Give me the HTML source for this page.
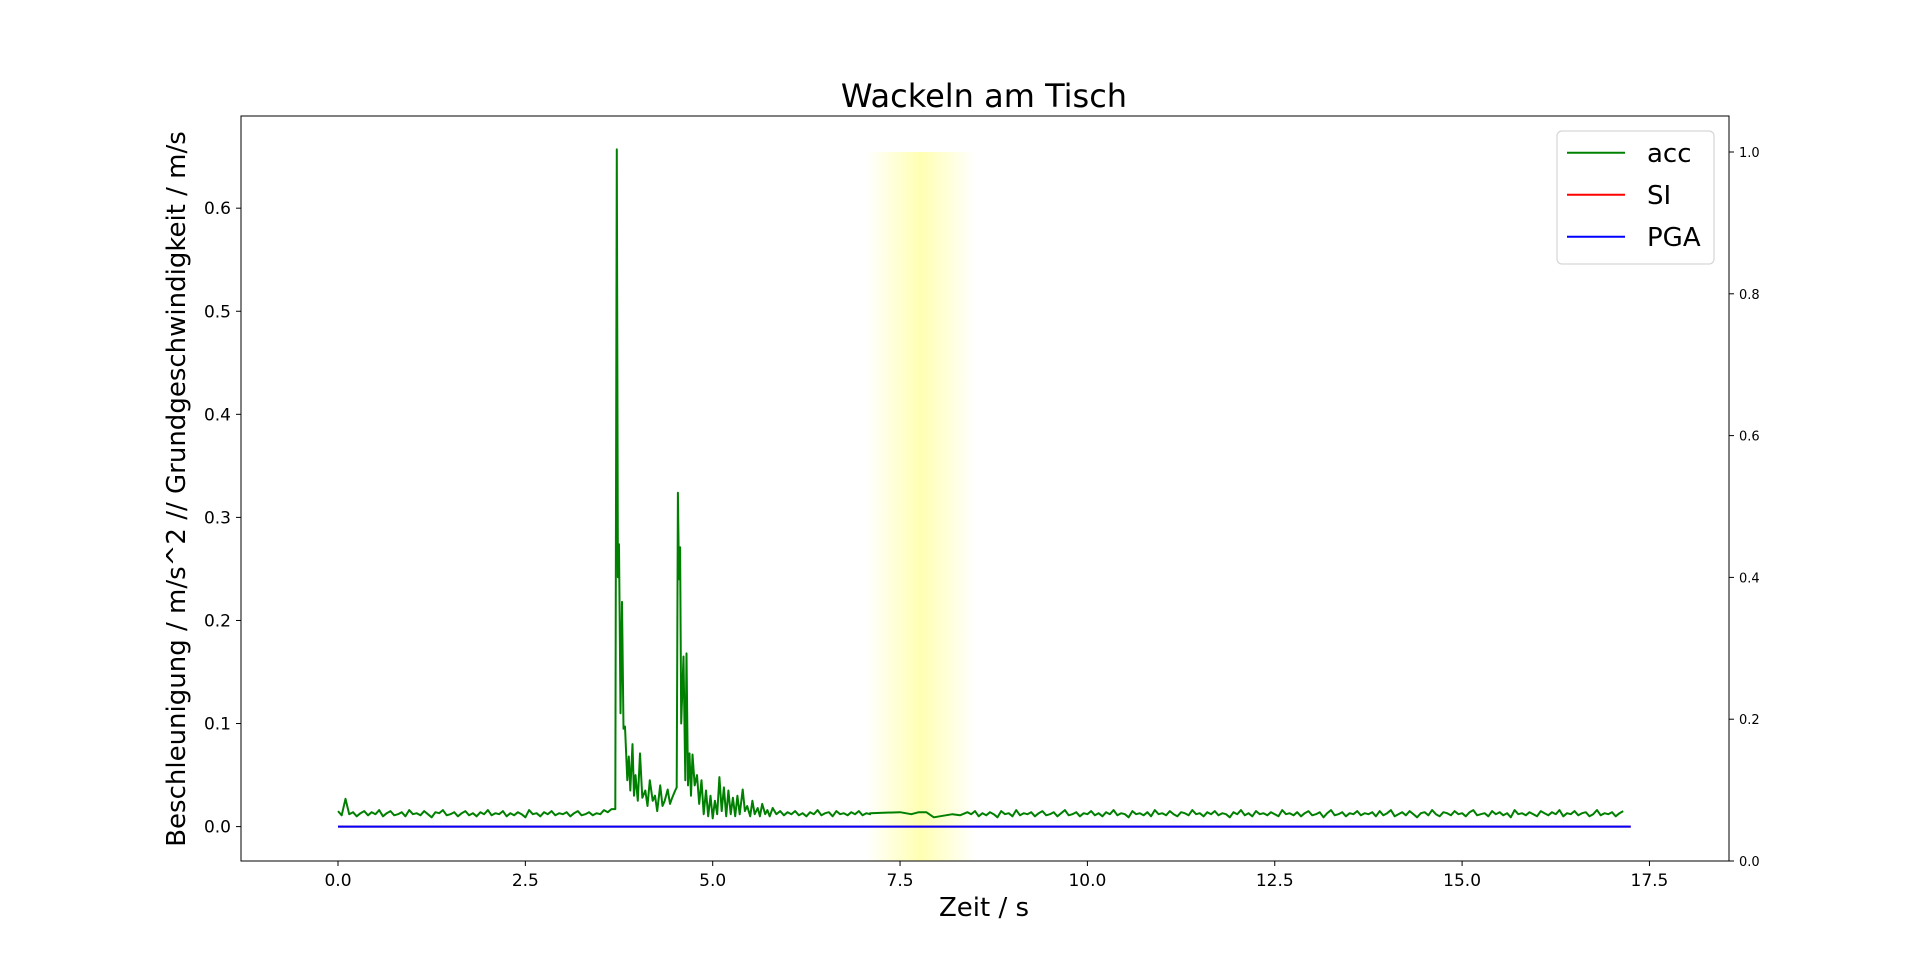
<!DOCTYPE html>
<html><head><meta charset="utf-8"><style>
html,body{margin:0;padding:0;background:#fff;}
svg{display:block;font-family:"DejaVu Sans","Liberation Sans",sans-serif;}
</style></head><body>
<svg id="chart" width="1920" height="967" viewBox="0 0 1920 967" xmlns="http://www.w3.org/2000/svg">
<defs>
<linearGradient id="band" x1="0" x2="1" y1="0" y2="0">
<stop offset="0" stop-color="#ffff99" stop-opacity="0"/>
<stop offset="0.5" stop-color="#ffff99" stop-opacity="0.75"/>
<stop offset="1" stop-color="#ffff99" stop-opacity="0"/>
</linearGradient>
<clipPath id="clip"><rect x="241" y="116" width="1488" height="745"/></clipPath>
</defs>
<text x="984" y="107" font-size="32" text-anchor="middle">Wackeln am Tisch</text>
<g id="plot" clip-path="url(#clip)"></g>
<g id="axes"></g>
<text x="984" y="916" font-size="26" text-anchor="middle">Zeit / s</text>
<text transform="translate(185,489) rotate(-90)" font-size="26" text-anchor="middle">Beschleunigung / m/s^2 // Grundgeschwindigkeit / m/s</text>
<g>
<rect x="1557" y="131" width="157" height="133" rx="5" fill="#fff" stroke="#d6d6d6" stroke-width="1.2"/>
<line x1="1567" x2="1625" y1="152.7" y2="152.7" stroke="#008000" stroke-width="2"/>
<text x="1647" y="162" font-size="26">acc</text>
<line x1="1567" x2="1625" y1="194.7" y2="194.7" stroke="#ff0000" stroke-width="2"/>
<text x="1647" y="204" font-size="26">SI</text>
<line x1="1567" x2="1625" y1="236.7" y2="236.7" stroke="#0000ff" stroke-width="2"/>
<text x="1647" y="246" font-size="26">PGA</text>
</g>
</svg>
<script>
const xTicks=[0,2.5,5,7.5,10,12.5,15,17.5];
const xTickLabels=["0.0","2.5","5.0","7.5","10.0","12.5","15.0","17.5"];
const yTicks=[0,0.1,0.2,0.3,0.4,0.5,0.6];
const yTickLabels=["0.0","0.1","0.2","0.3","0.4","0.5","0.6"];
const y2Ticks=[0,0.2,0.4,0.6,0.8,1.0];
const y2TickLabels=["0.0","0.2","0.4","0.6","0.8","1.0"];
const bandRange=[7.05,8.5];
const bandTop=1.0;
const pgaRange=[0,17.25];
const pgaValue=0;
const baseA=[0.015,0.011,0.027,0.012,0.014,0.010,0.013,0.015,0.011,0.014,0.012,0.016,0.010,0.013,0.015,0.011,0.012,0.014,0.010,0.016,0.012,0.013,0.011,0.015,0.012,0.009,0.014,0.013,0.016,0.011,0.012,0.014,0.010,0.013,0.015,0.011,0.013,0.010,0.014,0.012,0.016,0.011,0.013,0.012,0.015,0.010,0.013,0.011,0.014,0.012,0.009,0.016,0.012,0.013,0.010,0.014,0.012,0.015,0.011,0.013,0.012,0.014,0.010,0.013,0.015,0.011,0.012,0.014,0.011,0.013,0.012,0.016,0.014,0.017];
const burstT=[3.70,3.72,3.735,3.75,3.77,3.79,3.81,3.83,3.86,3.88,3.90,3.93,3.95,3.97,4.00,4.03,4.06,4.10,4.13,4.16,4.20,4.23,4.26,4.30,4.33,4.36,4.40,4.43,4.46,4.50,4.52,4.535,4.55,4.565,4.58,4.61,4.635,4.65,4.67,4.69,4.71,4.73,4.76,4.79,4.82,4.85,4.88,4.91,4.94,4.97,5.00,5.03,5.06,5.09,5.12,5.15,5.18,5.21,5.24,5.27,5.30,5.33,5.36,5.40,5.43,5.46,5.50,5.53,5.56,5.60,5.63,5.66,5.70,5.73,5.76,5.80,5.85,5.90,5.95,6.00];
const burstA=[0.017,0.657,0.242,0.274,0.110,0.218,0.095,0.097,0.045,0.068,0.035,0.080,0.030,0.050,0.025,0.071,0.028,0.035,0.020,0.045,0.025,0.030,0.015,0.040,0.020,0.025,0.036,0.022,0.028,0.035,0.038,0.324,0.240,0.271,0.100,0.165,0.045,0.168,0.040,0.071,0.030,0.070,0.040,0.050,0.022,0.045,0.012,0.035,0.010,0.030,0.008,0.025,0.012,0.048,0.015,0.038,0.010,0.035,0.012,0.028,0.010,0.030,0.012,0.036,0.015,0.020,0.010,0.025,0.012,0.018,0.010,0.022,0.012,0.016,0.010,0.018,0.012,0.015,0.011,0.014];
const midA=[0.012,0.015,0.011,0.013,0.010,0.014,0.012,0.016,0.011,0.013,0.014,0.010,0.015,0.012,0.013,0.011,0.014,0.012,0.015,0.011,0.013,0.012];
const gapT=[7.10,7.50,7.65,7.75,7.85,7.95,8.20,8.30,8.40];
const gapA=[0.013,0.014,0.012,0.014,0.014,0.009,0.012,0.011,0.014];
const tailA=[0.012,0.015,0.010,0.013,0.011,0.014,0.012,0.009,0.015,0.012,0.013,0.010,0.016,0.011,0.013,0.012,0.014,0.010,0.013,0.015,0.011,0.012,0.014,0.010,0.013,0.016,0.011,0.012,0.014,0.010,0.013,0.012,0.015,0.011,0.013,0.010,0.014,0.012,0.016,0.011,0.013,0.012,0.009,0.015,0.012,0.013,0.011,0.014,0.010,0.016,0.012,0.013,0.011,0.015,0.012,0.010,0.014,0.013,0.011,0.016,0.012,0.013,0.010,0.014,0.012,0.015,0.011,0.013,0.012,0.009,0.014,0.012,0.016,0.011,0.013,0.010,0.015,0.012,0.013,0.011,0.014,0.012,0.010,0.016,0.012,0.013,0.011,0.014,0.010,0.013,0.015,0.011,0.012,0.014,0.009,0.013,0.016,0.011,0.012,0.014,0.010,0.013,0.012,0.015,0.011,0.013,0.012,0.014,0.010,0.015,0.011,0.013,0.016,0.010,0.012,0.014,0.011,0.015,0.012,0.009,0.013,0.014,0.011,0.016,0.012,0.010,0.014,0.013,0.011,0.015,0.012,0.013,0.010,0.014,0.016,0.011,0.012,0.013,0.010,0.015,0.012,0.014,0.011,0.013,0.009,0.016,0.012,0.013,0.011,0.014,0.012,0.010,0.015,0.013,0.011,0.014,0.012,0.016,0.010,0.013,0.012,0.015,0.011,0.013,0.014,0.010,0.012,0.016,0.011,0.013,0.012,0.014,0.010,0.013,0.015];

const X=t=>338+t*74.94;
const Y=v=>826.6-v*1030.7;
const Y2=v=>861-v*709;
const NS="http://www.w3.org/2000/svg";
function mk(tag,attrs,parent){const e=document.createElementNS(NS,tag);for(const k in attrs)e.setAttribute(k,attrs[k]);parent.appendChild(e);return e;}

const times=[],vals=[];
baseA.forEach((v,i)=>{times.push(i*0.05);vals.push(v);});
burstT.forEach((t,i)=>{times.push(t);vals.push(burstA[i]);});
midA.forEach((v,i)=>{times.push(6.05+i*0.05);vals.push(v);});
gapT.forEach((t,i)=>{times.push(t);vals.push(gapA[i]);});
tailA.forEach((v,i)=>{const t=8.45+i*0.05; if(t<=17.26){times.push(t);vals.push(v);}});

const plot=document.getElementById('plot');
const band=mk('rect',{x:X(bandRange[0]),y:Y2(bandTop),width:X(bandRange[1])-X(bandRange[0]),height:Y2(0)-Y2(bandTop),fill:'url(#band)'},plot);


const acc=mk('polyline',{points:times.map((t,i)=>X(t).toFixed(1)+','+Y(vals[i]).toFixed(1)).join(' '),fill:'none',stroke:'#008000','stroke-width':2,'stroke-linejoin':'round'},plot);


const si=mk('line',{x1:X(pgaRange[0]),x2:X(pgaRange[1]),y1:Y(pgaValue),y2:Y(pgaValue),stroke:'#ff0000','stroke-width':2},plot);


const pga=mk('line',{x1:X(pgaRange[0]),x2:X(pgaRange[1]),y1:Y(pgaValue),y2:Y(pgaValue),stroke:'#0000ff','stroke-width':2},plot);



const axes=document.getElementById('axes');
const frame=mk('rect',{x:241,y:116,width:1488,height:745,fill:'none',stroke:'#000','stroke-width':1},axes);


xTicks.forEach((t,i)=>{
 mk('line',{x1:X(t),x2:X(t),y1:861,y2:866,stroke:'#000'},axes);
 const l=mk('text',{x:X(t),y:886,'font-size':17,'text-anchor':'middle'},axes);
 l.textContent=xTickLabels[i];
 
 
});
yTicks.forEach((v,i)=>{
 mk('line',{x1:236,x2:241,y1:Y(v),y2:Y(v),stroke:'#000'},axes);
 const l=mk('text',{x:231,y:Y(v)+6,'font-size':17,'text-anchor':'end'},axes);
 l.textContent=yTickLabels[i];
 
 
});
y2Ticks.forEach((v,i)=>{
 mk('line',{x1:1729,x2:1734,y1:Y2(v),y2:Y2(v),stroke:'#000'},axes);
 const l=mk('text',{x:1739,y:Y2(v)+5,'font-size':13,'text-anchor':'start'},axes);
 l.textContent=y2TickLabels[i];
 
 
});
</script>
</body></html>
